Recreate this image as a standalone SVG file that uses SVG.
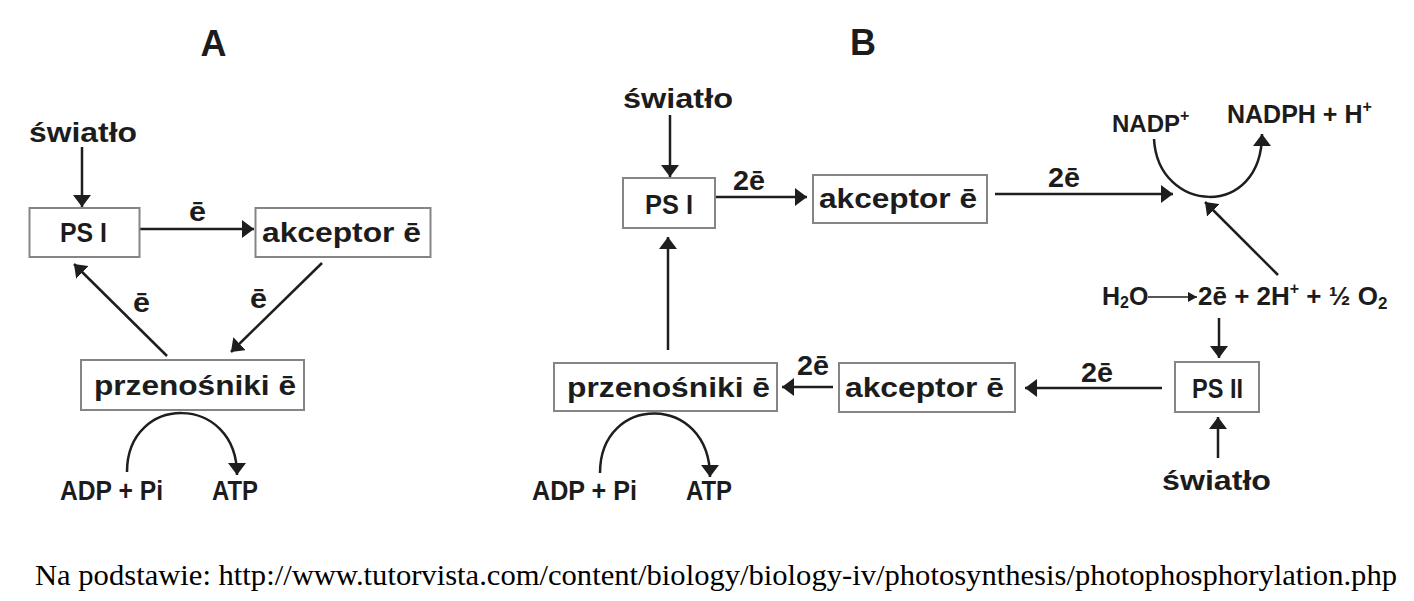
<svg xmlns="http://www.w3.org/2000/svg" width="1414" height="601" viewBox="0 0 1414 601">
<style>
.t{font-family:"Liberation Sans",Arial,sans-serif;font-weight:bold;font-size:27px;fill:#1c1c1c}
.s{font-family:"Liberation Sans",Arial,sans-serif;font-weight:bold;fill:#1c1c1c}
.box{fill:#fff;stroke:#858585;stroke-width:2}
.c{fill:none;stroke:#1e1e1e;stroke-width:2.5}
.thin{fill:none;stroke:#1e1e1e;stroke-width:1.6}
.foot{font-family:"Liberation Serif","Times New Roman",serif;font-size:30px;fill:#000}
</style>
<defs>
<marker id="ah" viewBox="0 0 12 18" refX="12" refY="9" markerWidth="12" markerHeight="18" orient="auto" markerUnits="userSpaceOnUse"><path d="M0,0 L12,9 L0,18 z" fill="#1e1e1e"/></marker>
<marker id="ahs" viewBox="0 0 9 10" refX="9" refY="5" markerWidth="9" markerHeight="10" orient="auto" markerUnits="userSpaceOnUse"><path d="M0,0 L9,5 L0,10 z" fill="#1e1e1e"/></marker>
</defs>
<rect width="1414" height="601" fill="#fff"/>

<text class="s" x="213.5" y="56" style="font-size:36px" text-anchor="middle">A</text>
<text class="s" x="863" y="55" style="font-size:36px" text-anchor="middle">B</text>

<g id="connectors">
<path class="c" d="M82,147 V207" marker-end="url(#ah)"/>
<path class="c" d="M140,229 H254" marker-end="url(#ah)"/>
<path class="c" d="M322,263 L231,352" marker-end="url(#ah)"/>
<path class="c" d="M167,356 L74,264" marker-end="url(#ah)"/>
<path class="c" d="M127,472 C127,393 237,393 237,475" marker-end="url(#ah)"/>
<path class="c" d="M670,115 V177" marker-end="url(#ah)"/>
<path class="c" d="M715,197 H807" marker-end="url(#ah)"/>
<path class="c" d="M995,194 H1173" marker-end="url(#ah)"/>
<path class="c" d="M1154,139 C1158,214 1262,220 1262,134" marker-end="url(#ah)"/>
<path class="c" d="M1278,275 L1205,202" marker-end="url(#ah)"/>
<path class="thin" d="M1148,297 H1197" marker-end="url(#ahs)"/>
<path class="c" d="M1219,318 V358" marker-end="url(#ah)"/>
<path class="c" d="M1218,458 V417" marker-end="url(#ah)"/>
<path class="c" d="M1162,388 H1025" marker-end="url(#ah)"/>
<path class="c" d="M833,387 H782" marker-end="url(#ah)"/>
<path class="c" d="M668,350 V237" marker-end="url(#ah)"/>
<path class="c" d="M600,473 C600,393 710,393 710,477" marker-end="url(#ah)"/>
<text class="t" x="189" y="221" textLength="17" lengthAdjust="spacingAndGlyphs">ē</text>
<text class="t" x="133" y="312" textLength="17" lengthAdjust="spacingAndGlyphs">ē</text>
<text class="t" x="250" y="308" textLength="17" lengthAdjust="spacingAndGlyphs">ē</text>
<text class="t" x="733" y="190" textLength="32" lengthAdjust="spacingAndGlyphs">2ē</text>
<text class="t" x="1048" y="187" textLength="32" lengthAdjust="spacingAndGlyphs">2ē</text>
<text class="t" x="1081" y="382" textLength="32" lengthAdjust="spacingAndGlyphs">2ē</text>
<text class="t" x="797" y="375" textLength="32" lengthAdjust="spacingAndGlyphs">2ē</text>
</g>

<g id="A-swiatlo"><text class="t" x="29" y="142" textLength="108" lengthAdjust="spacingAndGlyphs">światło</text></g>
<g id="A-PSI"><rect class="box" x="29.5" y="208" width="110" height="49"/><text class="t" x="60" y="242" textLength="47" lengthAdjust="spacingAndGlyphs">PS I</text></g>
<g id="A-akceptor"><rect class="box" x="255.5" y="208" width="175" height="49"/><text class="t" x="262" y="242" textLength="159" lengthAdjust="spacingAndGlyphs">akceptor ē</text></g>
<g id="A-przenosniki"><rect class="box" x="81" y="360" width="223" height="50"/><text class="t" x="94" y="395" textLength="202" lengthAdjust="spacingAndGlyphs">przenośniki ē</text></g>
<g id="A-ADP"><text class="t" x="60" y="500" textLength="103" lengthAdjust="spacingAndGlyphs">ADP + Pi</text></g>
<g id="A-ATP"><text class="t" x="212" y="500" textLength="46" lengthAdjust="spacingAndGlyphs">ATP</text></g>

<g id="B-swiatlo1"><text class="t" x="623" y="108" textLength="110" lengthAdjust="spacingAndGlyphs">światło</text></g>
<g id="B-PSI"><rect class="box" x="623" y="178" width="92" height="50"/><text class="t" x="645" y="214" textLength="48" lengthAdjust="spacingAndGlyphs">PS I</text></g>
<g id="B-akceptor1"><rect class="box" x="813" y="175" width="174" height="48"/><text class="t" x="819" y="208" textLength="158" lengthAdjust="spacingAndGlyphs">akceptor ē</text></g>
<g id="B-NADP"><text class="s" x="1112" y="132" style="font-size:24px">NADP<tspan style="font-size:16px" dy="-11">+</tspan></text></g>
<g id="B-NADPH"><text class="s" x="1227" y="123" style="font-size:25px">NADPH + H<tspan style="font-size:16px" dy="-11">+</tspan></text></g>
<g id="B-H2O"><text class="s" x="1102" y="305" style="font-size:25px">H<tspan style="font-size:16px" dy="3">2</tspan><tspan dy="-3">O</tspan></text></g>
<g id="B-products"><text class="s" x="1198" y="305" style="font-size:26px">2ē + 2H<tspan style="font-size:16px" dy="-11">+</tspan><tspan dy="11"> + ½ O</tspan><tspan style="font-size:17px" dy="4">2</tspan></text></g>
<g id="B-PSII"><rect class="box" x="1175" y="362" width="84" height="50"/><text class="t" x="1192" y="398" textLength="51" lengthAdjust="spacingAndGlyphs">PS II</text></g>
<g id="B-swiatlo2"><text class="t" x="1162" y="490" textLength="109" lengthAdjust="spacingAndGlyphs">światło</text></g>
<g id="B-akceptor2"><rect class="box" x="839" y="363" width="176" height="49"/><text class="t" x="845" y="397" textLength="159" lengthAdjust="spacingAndGlyphs">akceptor ē</text></g>
<g id="B-przenosniki"><rect class="box" x="554" y="363" width="223" height="48"/><text class="t" x="567" y="397" textLength="203" lengthAdjust="spacingAndGlyphs">przenośniki ē</text></g>
<g id="B-ADP"><text class="t" x="532" y="500" textLength="105" lengthAdjust="spacingAndGlyphs">ADP + Pi</text></g>
<g id="B-ATP"><text class="t" x="686" y="500" textLength="46" lengthAdjust="spacingAndGlyphs">ATP</text></g>

<text class="foot" x="35" y="585" textLength="1362" lengthAdjust="spacingAndGlyphs">Na podstawie: http://www.tutorvista.com/content/biology/biology-iv/photosynthesis/photophosphorylation.php</text>
</svg>
